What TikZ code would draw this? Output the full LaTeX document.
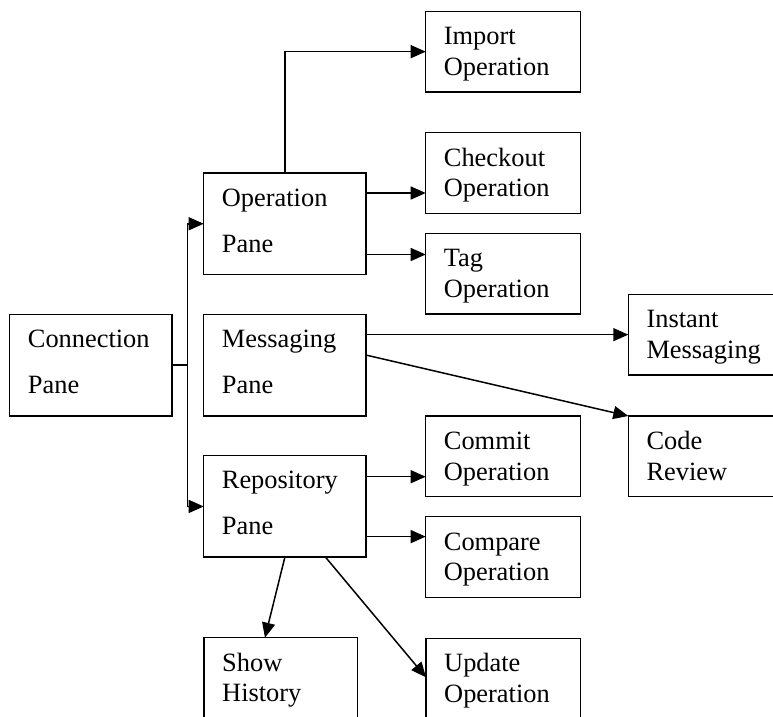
\documentclass[tikz,border=0pt]{standalone}
\usepackage{fontspec}
\setmainfont{Liberation Serif}
\usetikzlibrary{arrows.meta}

\begin{document}
\begin{tikzpicture}[x=1pt,y=-1pt,
  box/.style={draw, line width=1.5pt, rectangle, inner sep=0pt, outer sep=0pt,
              anchor=north west},
  pane/.style={box, minimum width=162.3pt, minimum height=101.5pt},
  opbox/.style={box, minimum width=154.6pt, minimum height=80.7pt},
  txt/.style={anchor=base west, inner sep=0pt, font=\fontsize{26.4}{30}\selectfont},
  conn/.style={line width=1.5pt},
  arr/.style={conn, -{Triangle[length=15pt,width=13pt]}},
  arrboth/.style={conn, {Triangle[length=15pt,width=13pt]}-{Triangle[length=15pt,width=13pt]}}]

\useasboundingbox (0,0) rectangle (773,716);
\clip (0,0) rectangle (773,716);

% panes
\node[pane] (conn) at (9.7,314.3) {};
\node[pane] (op)   at (203.7,173) {};
\node[pane] (msg)  at (203.7,314.3) {};
\node[pane] (repo) at (203.7,455.7) {};

% operation boxes
\node[opbox] (imp) at (425.7,11.3) {};
\node[opbox] (chk) at (425.7,132.7) {};
\node[opbox] (tag) at (425.7,233.3) {};
\node[opbox] (com) at (425.7,416) {};
\node[opbox] (cmp) at (425.7,516.7) {};
\node[opbox] (upd) at (426,638.3) {};
\node[box, minimum width=153.3pt, minimum height=90pt] (sh) at (204,637.7) {};
\node[box, minimum width=160pt, minimum height=80.7pt] (inst) at (628.3,294.3) {};
\node[box, minimum width=160pt, minimum height=80.7pt] (cr) at (628.3,416) {};

% pane labels (double spaced)
\foreach \n/\a/\b in {conn/Connection/Pane, op/Operation/Pane,
                      msg/Messaging/Pane, repo/Repository/Pane}{
  \node[txt] (\n-a) at ([shift={(18,33)}]\n.north west) {\a};
  \node[txt] (\n-b) at ([shift={(18,79)}]\n.north west) {\b};
}

% operation labels (single spaced)
\foreach \n/\a/\b in {imp/Import/Operation, chk/Checkout/Operation,
                      tag/Tag/Operation, com/Commit/Operation,
                      cmp/Compare/Operation, upd/Update/Operation,
                      sh/Show/History, inst/Instant/Messaging, cr/Code/Review}{
  \node[txt] (\n-a) at ([shift={(18,33.5)}]\n.north west) {\a};
  \node[txt] (\n-b) at ([shift={(18,64)}]\n.north west) {\b};
}

% connection pane branches
\coordinate (j) at ([xshift=15.7]conn.east);
\draw[conn] (conn.east) -- (j);
\draw[arrboth] (op.west) -| (j) |- (repo.west);

% operation pane
\draw[arr] (op.north) |- (imp.west);
\draw[arr] ([yshift=-20]op.north east) -- ([yshift=-20]op.north east -| chk.west);
\draw[arr] ([yshift=20]op.south east) -- ([yshift=20]op.south east -| tag.west);

% messaging pane
\draw[arr] (msg.east |- inst.west) -- (inst.west);
\draw[arr] ([yshift=10]msg.east) -- (cr.north west);

% repository pane
\draw[arr] ([yshift=-21]repo.north east) -- ([yshift=-21]repo.north east -| com.west);
\draw[arr] ([yshift=20.6]repo.south east) -- ([yshift=20.6]repo.south east -| cmp.west);
\draw[arr] (repo.south) -- ([xshift=-15.7]sh.north);
\draw[arr] ([xshift=40.7]repo.south) -- ([yshift=-39]upd.north west);

\end{tikzpicture}
\end{document}
